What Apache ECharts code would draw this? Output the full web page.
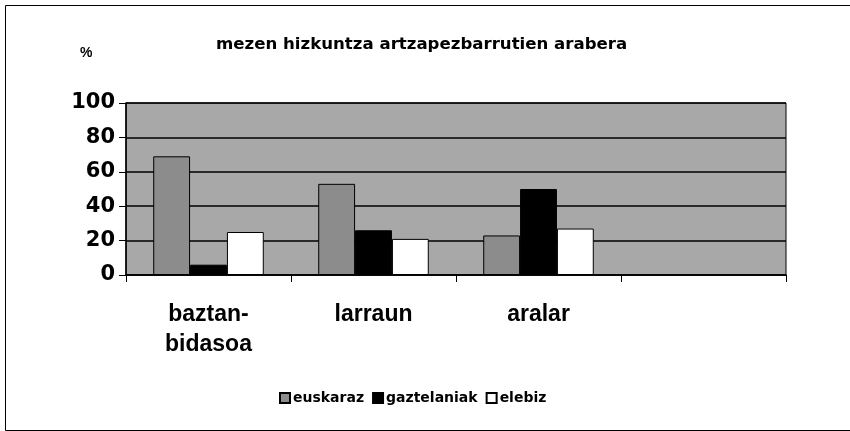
<!DOCTYPE html>
<html>
<head>
<meta charset="utf-8">
<script src="https://cdn.jsdelivr.net/npm/echarts@6/dist/echarts.min.js"></script>
<style>html,body{margin:0;padding:0;background:#fff}#c{width:850px;height:431px}</style>
</head>
<body>
<div id="c"></div>
<script>
const titleText = 'mezen hizkuntza artzapezbarrutien arabera';
const unitLabel = '%';
const categories = ['baztan-\nbidasoa', 'larraun', 'aralar', ''];
const seriesNames = ['euskaraz', 'gaztelaniak', 'elebiz'];
const euskaraz = [69, 53, 23, null];
const gaztelaniak = [6, 26, 50, null];
const elebiz = [25, 21, 27, null];
const yTicks = [0, 20, 40, 60, 80, 100];

const font = '"Liberation Sans", Arial, sans-serif';
const wideFont = '"DejaVu Sans", sans-serif';
const colors = ['#8c8c8c', '#000000', '#ffffff'];
const values = [euskaraz, gaztelaniak, elebiz];

const chart = echarts.init(document.getElementById('c'), null, {renderer: 'canvas'});
chart.setOption({
  animation: false,
  backgroundColor: '#fff',
  title: {
    text: titleText, left: 211, top: 31,
    textStyle: {fontFamily: wideFont, fontSize: 16.6, fontWeight: 'bold', color: '#000'}
  },
  graphic: [
    {type: 'rect', left: 3, top: 3, shape: {width: 845, height: 425}, style: {fill: 'none', stroke: '#000', lineWidth: 1}, silent: true},
    {type: 'text', left: 80, top: 46, style: {text: unitLabel, font: 'bold 14px ' + font, fill: '#000'}}
  ],
  legend: {
    data: seriesNames, left: 274, top: 386, itemWidth: 10, itemHeight: 10, itemGap: 8,
    icon: 'rect',
    textStyle: {fontFamily: wideFont, fontSize: 14, fontWeight: 'bold', color: '#000', padding: [0, 0, 0, -2]}
  },
  grid: {
    left: 126, right: 64, top: 103, bottom: 156, show: true,
    backgroundColor: '#a8a8a8', borderColor: '#000', borderWidth: 1
  },
  xAxis: {
    type: 'category', data: categories, boundaryGap: true,
    axisLine: {lineStyle: {color: '#000', width: 1.5}},
    axisTick: {show: true, length: 7, lineStyle: {color: '#000'}},
    axisLabel: {fontFamily: font, fontSize: 23, fontWeight: 'bold', color: '#000', margin: 25, lineHeight: 30, interval: 0}
  },
  yAxis: {
    type: 'value', min: 0, max: 100, interval: 20,
    axisLine: {show: true, lineStyle: {color: '#000', width: 1.5}},
    axisTick: {show: true, length: 7, lineStyle: {color: '#000'}},
    axisLabel: {fontFamily: wideFont, fontSize: 21, fontWeight: 'bold', color: '#000', margin: 11,
      formatter: v => yTicks.includes(v) ? String(v) : ''},
    splitLine: {show: true, lineStyle: {color: '#000', width: 1.5}}
  },
  series: seriesNames.map((n, i) => ({
    name: n, type: 'bar', data: values[i],
    barGap: '0%', barCategoryGap: '33%',
    itemStyle: {color: colors[i], borderColor: '#000', borderWidth: 1}
  }))
});
</script>
</body>
</html>
